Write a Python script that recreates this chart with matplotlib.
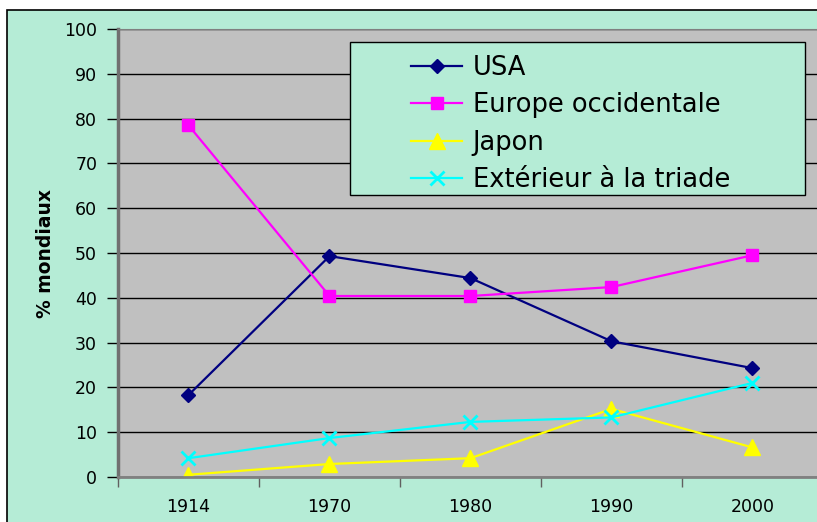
import matplotlib
matplotlib.use("Agg")
from matplotlib import pyplot as plt
from matplotlib.patches import Rectangle

years = ["1914", "1970", "1980", "1990", "2000"]
usa = [18.3, 49.3, 44.4, 30.3, 24.3]
europe = [78.5, 40.4, 40.4, 42.4, 49.5]
japon = [0.5, 2.9, 4.2, 15.2, 6.6]
exterieur = [4.2, 8.7, 12.3, 13.3, 21.0]

mint = "#B5ECD6"
gray = "#C0C0C0"

fig = plt.figure(figsize=[8.17, 5.22], dpi=100, facecolor="white")
# chart area frame (cut off at the right and bottom)
fig.patches.append(Rectangle((7 / 817, -0.05), 1.0, (522 - 10) / 522 + 0.05,
                             transform=fig.transFigure, facecolor=mint,
                             edgecolor="black", linewidth=1.2, zorder=-10))

ax = fig.add_axes([118 / 817, 45 / 522, 705 / 817, 448 / 522])
ax.set_facecolor(gray)
x = range(len(years))

ax.plot(x, usa, color="#000080", marker="D", markersize=7, linewidth=1.6, label="USA")
ax.plot(x, europe, color="#FF00FF", marker="s", markersize=9, linewidth=1.6,
        label="Europe occidentale")
ax.plot(x, japon, color="#FFFF00", marker="^", markersize=11, linewidth=1.6, label="Japon")
ax.plot(x, exterieur, color="#00FFFF", marker="x", markersize=10, markeredgewidth=2,
        linewidth=1.6, label="Extérieur à la triade")

ax.set_xlim(-0.5, 4.5)
ax.set_ylim(0, 100)
ax.set_yticks(range(0, 101, 10))
ax.yaxis.grid(True, color="black", linewidth=1)
ax.set_axisbelow(True)

ax.set_xticks([i - 0.5 for i in range(len(years) + 1)], minor=False)
ax.set_xticklabels([])
ax.set_xticks(list(x), minor=True)
ax.set_xticklabels(years, minor=True, fontsize=12.5)
ax.tick_params(axis="x", which="minor", length=0, pad=15)
ax.tick_params(axis="x", which="major", length=7, width=1, color="#606060")
ax.tick_params(axis="y", length=8, width=1, labelsize=12.5, pad=7)

for side in ["top", "right"]:
    ax.spines[side].set_color("#808080")
ax.spines["left"].set_color("#707070")
ax.spines["left"].set_linewidth(2.5)
ax.spines["bottom"].set_color("#808080")
ax.spines["bottom"].set_linewidth(2)

ax.set_ylabel("% mondiaux", fontsize=13.5, fontweight="bold")
ax.yaxis.set_label_coords(-0.09, 0.5)

# legend box
ax.add_patch(Rectangle((0.329, 0.629), 0.645, 0.342, transform=ax.transAxes,
                       facecolor=mint, edgecolor="black", linewidth=1, zorder=4))
ax.legend(loc="upper left", bbox_to_anchor=(0.4156, 0.942), frameon=False, fontsize=18.5,
          handlelength=2.0, handletextpad=0.4, labelspacing=0.44, borderaxespad=0,
          borderpad=0)

fig.savefig("out.png", dpi=100, facecolor="white")
